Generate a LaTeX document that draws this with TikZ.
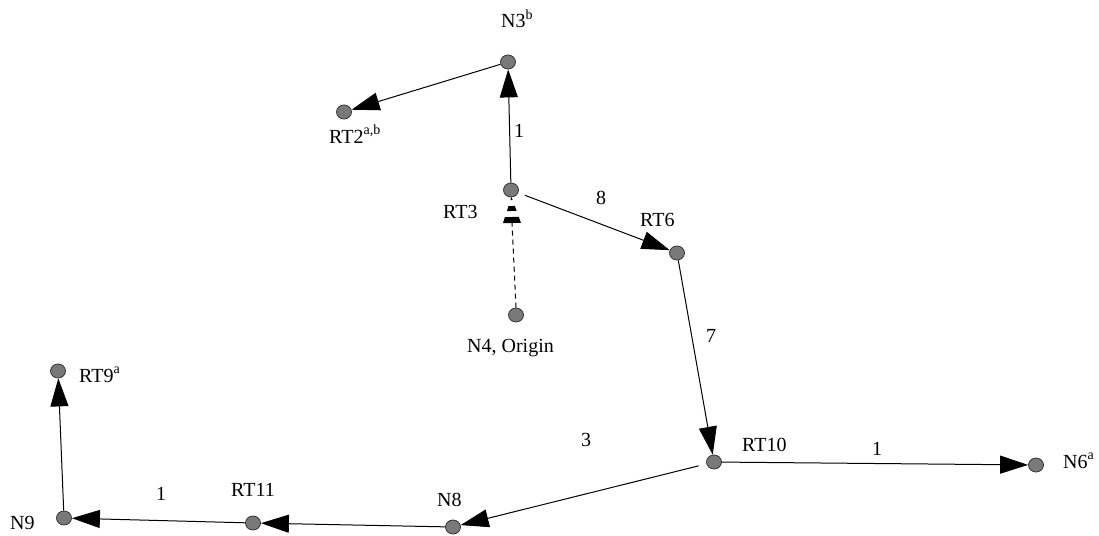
\documentclass[tikz,border=0pt]{standalone}
\usepackage{fontspec}
\setmainfont{Liberation Serif}
\usetikzlibrary{arrows.meta,shapes.geometric}
\newcommand{\sups}[1]{\raisebox{0.45em}{\fontsize{14}{16}\selectfont #1}}
\begin{document}
\begin{tikzpicture}[x=1pt,y=-1pt,
  pt/.style={ellipse,minimum width=15pt,minimum height=14pt,inner sep=0pt,fill=gray!95!black,draw=black!80,line width=0.8pt},
  lbl/.style={anchor=base west,inner sep=0pt,font=\fontsize{20}{23}\selectfont},
  elbl/.style={inner sep=0pt,font=\fontsize{20}{23}\selectfont},
  edge/.style={line width=1pt,-{Triangle[length=28pt,width=18pt]}}]
\useasboundingbox (0,0) rectangle (1099,535);
% nodes
\node[pt] (N3) at (508,62) {};
\node[pt] (RT2) at (344,112) {};
\node[pt] (RT3) at (511,190) {};
\node[pt] (N4) at (516,315) {};
\node[pt] (RT6) at (677,253) {};
\node[pt] (RT10) at (714,462) {};
\node[pt] (N6) at (1036,465) {};
\node[pt] (N8) at (453,527) {};
\node[pt] (RT11) at (253,523) {};
\node[pt] (N9) at (64,518) {};
\node[pt] (RT9) at (58,371) {};
% labels
\node[lbl] (tN3) at (501,28) {N3\sups{b}};
\node[lbl] (tRT2) at (329,143) {RT2\sups{a,b}};
\node[lbl] (tRT3) at (443,218) {RT3};
\node[lbl] (tRT6) at (640,226) {RT6};
\node[lbl] (tN4) at (467,352.5) {N4, Origin};
\node[lbl] (tRT9) at (79,382) {RT9\sups{a}};
\node[lbl] (tRT11) at (231,496) {RT11};
\node[lbl] (tN8) at (437,506) {N8};
\node[lbl] (tN9) at (10,529) {N9};
\node[lbl] (tRT10) at (742,451) {RT10};
\node[lbl] (tN6) at (1063,468) {N6\sups{a}};
% edges
\draw[edge] (RT3) -- (N3);
\draw[edge] (N3) -- (RT2);
\draw[edge,shorten <=7pt] (RT3) -- (RT6);
\draw[edge] (RT6) -- (RT10);
\draw[edge] (RT10) -- (N6);
\draw[edge,shorten <=8pt] (RT10) -- (N8);
\draw[edge] (N8) -- (RT11);
\draw[edge] (RT11) -- (N9);
\draw[edge] (N9) -- (RT9);
% dashed edge N4 -> RT3 with striped tip
\coordinate (tip) at (511.5,197);
\coordinate (bl) at (503,223);
\coordinate (br) at (521,223);
\draw[line width=1pt,dash pattern=on 5pt off 4pt] (N4.north) -- (512,223);
\begin{scope}
  \clip (tip) -- (br) -- (bl) -- cycle;
  \draw[line width=20pt,dash pattern=on 3pt off 6pt on 5pt off 6pt on 6pt off 20pt] (tip) -- (512,230);
\end{scope}
% edge labels
\node[elbl] (w1) at (519,131) {1};
\node[elbl] (w8) at (601,198) {8};
\node[elbl] (w7) at (711,336) {7};
\node[elbl] (w1b) at (877,449) {1};
\node[elbl] (w3) at (586,440) {3};
\node[elbl] (w1c) at (161,494) {1};
\end{tikzpicture}
\end{document}
